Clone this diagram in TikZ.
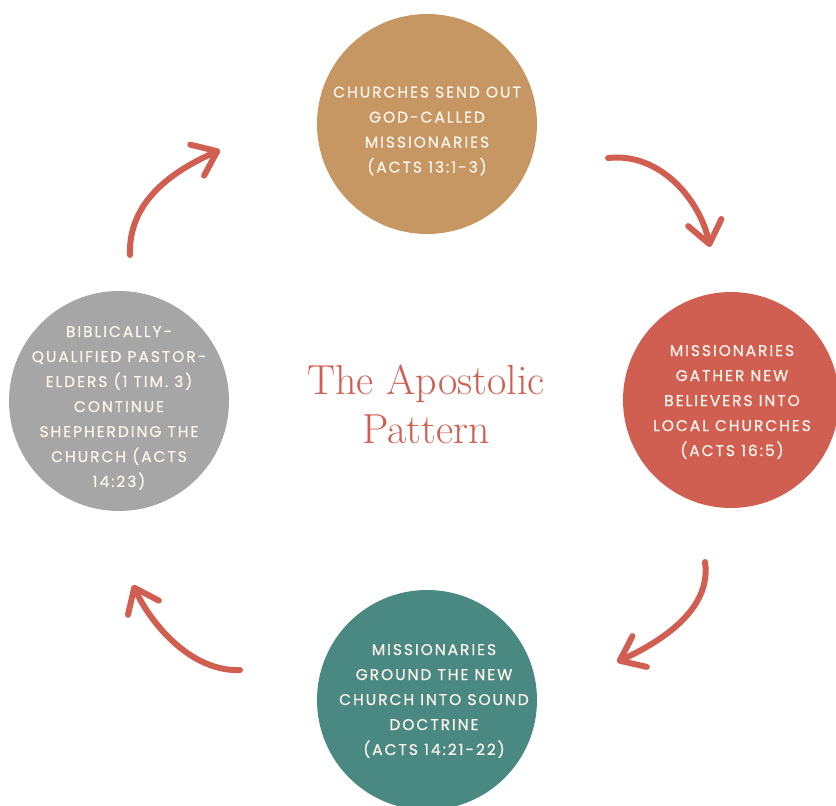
\documentclass[tikz,border=0pt]{standalone}
\usepackage{fontspec}
\usetikzlibrary{arrows.meta}
\newfontfamily\lblfont{Poppins}[LetterSpace=12.5, FakeBold=0.9]
\definecolor{ctan}{HTML}{C69763}
\definecolor{cred}{HTML}{D05F52}
\definecolor{cteal}{HTML}{4A8882}
\definecolor{cgray}{HTML}{A6A6A6}
\definecolor{ctext}{HTML}{FAF3EA}
\tikzset{
  stagecircle/.style={circle, minimum size=220pt, inner sep=0pt, draw=none},
  stagetext/.style={text=ctext, align=center, font=\lblfont\fontsize{15.5}{25}\selectfont},
  cyclearrow/.style={draw=cred, line width=6pt, line cap=round,
    -{Straight Barb[length=22pt, width=34pt, line width=6pt, round]}},
}
\begin{document}
\begin{tikzpicture}[x=1pt,y=-1pt]
\useasboundingbox (0,0) rectangle (836,806);
\node[stagecircle, fill=ctan] (top) at (427,124) {};
\node[stagecircle, fill=cred, minimum size=216pt] (right) at (731,400) {};
\node[stagecircle, fill=cteal] (bottom) at (427,700) {};
\node[stagecircle, fill=cgray] (left) at (119,401) {};
\node[stagetext] (toptext) at (427,131) {CHURCHES SEND OUT\\GOD-CALLED\\MISSIONARIES\\(ACTS 13:1-3)};
\node[stagetext] (righttext) at (732,402) {MISSIONARIES\\GATHER NEW\\BELIEVERS INTO\\LOCAL CHURCHES\\(ACTS 16:5)};
\node[stagetext] (bottomtext) at (434,701) {MISSIONARIES\\GROUND THE NEW\\CHURCH INTO SOUND\\DOCTRINE\\(ACTS 14:21-22)};
\node[stagetext] (lefttext) at (119,408) {BIBLICALLY-\\QUALIFIED PASTOR-\\ELDERS (1 TIM. 3)\\CONTINUE\\SHEPHERDING THE\\CHURCH (ACTS\\14:23)};
\node[text=cred, align=center, font=\fontsize{42}{49}\selectfont\addfontfeatures{LetterSpace=3.5}] (title) at (426,404) {The Apostolic\\Pattern};
\coordinate (a1s) at (130,255); \coordinate (a1e) at (220,150);
\coordinate (a2s) at (608,158); \coordinate (a2e) at (710,247);
\coordinate (a3s) at (705,562); \coordinate (a3e) at (617,662);
\coordinate (a4s) at (240,670); \coordinate (a4e) at (133,585);
\draw[cyclearrow] (a1s) .. controls (128,200) and (175,170) .. (a1e);
\draw[cyclearrow] (a2s) .. controls (660,152) and (700,200) .. (a2e);
\draw[cyclearrow] (a3s) .. controls (712,610) and (660,642) .. (a3e);
\draw[cyclearrow] (a4s) .. controls (190,672) and (150,622) .. (a4e);
\end{tikzpicture}
\end{document}
